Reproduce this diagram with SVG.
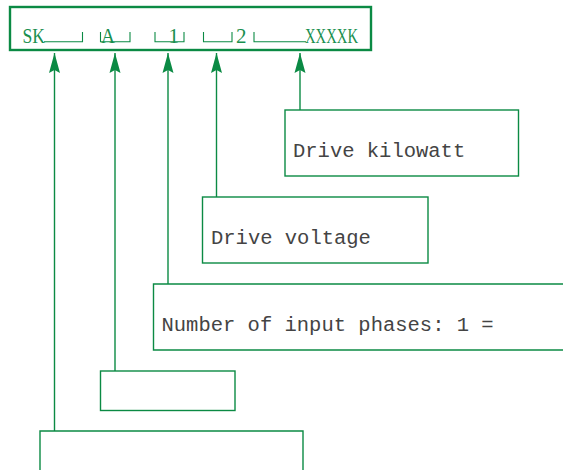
<svg xmlns="http://www.w3.org/2000/svg" width="563" height="470" viewBox="0 0 563 470">
<style>
.box{fill:none;stroke:#0b8a44;stroke-width:1.4}
.code{fill:#1a8f4f;font-family:"Liberation Serif","Times New Roman",serif;font-size:21px}
.lbl{fill:#444444;font-family:"Liberation Mono","Courier New",monospace;font-size:20.5px}
.con{stroke:#0b8a44;stroke-width:1.4;fill:none}
.brk{stroke:#0b8a44;stroke-width:1.1;fill:none}
</style>
<defs>
<marker id="arr" markerUnits="userSpaceOnUse" viewBox="-21 -7 22 14" markerWidth="22" markerHeight="14" refX="0" refY="0" orient="auto">
<path d="M0,0 L-20,-5.5 L-17,0 L-20,5.5 Z" fill="#0b8a44"/>
</marker>
</defs>
<rect width="563" height="470" fill="#ffffff"/>
<g id="code">
<rect x="10" y="7" width="361" height="43" fill="none" stroke="#0b8a44" stroke-width="2.4"/>
<text class="code" x="22.5" y="43" textLength="22.5" lengthAdjust="spacingAndGlyphs">SK</text>
<path class="brk" d="M44,41.8 H82.5 V32"/>
<text class="code" x="101" y="43" textLength="14" lengthAdjust="spacingAndGlyphs">A</text>
<path class="brk" d="M100.5,32 V41.8 H130 V32"/>
<path class="brk" d="M155,32 V41.8 H184 V32"/>
<text class="code" x="168.5" y="43">1</text>
<path class="brk" d="M203.5,32 V41.8 H232 V32"/>
<text class="code" x="236" y="43">2</text>
<path class="brk" d="M254,32 V41.8 H306"/>
<text class="code" x="305" y="43" textLength="53" lengthAdjust="spacingAndGlyphs">XXXXK</text>
</g>
<g id="connectors">
<line class="con" x1="54.5" y1="431" x2="54.5" y2="53" marker-end="url(#arr)"/>
<line class="con" x1="115" y1="371" x2="115" y2="53" marker-end="url(#arr)"/>
<line class="con" x1="168" y1="284" x2="168" y2="53" marker-end="url(#arr)"/>
<line class="con" x1="216.5" y1="197" x2="216.5" y2="53" marker-end="url(#arr)"/>
<line class="con" x1="300" y1="110" x2="300" y2="53" marker-end="url(#arr)"/>
</g>
<g id="kilowatt">
<rect class="box" x="285" y="110" width="233.5" height="66"/>
<text class="lbl" x="293" y="157">Drive kilowatt</text>
</g>
<g id="voltage">
<rect class="box" x="202.5" y="197" width="225.5" height="66"/>
<text class="lbl" x="211" y="243.5">Drive voltage</text>
</g>
<g id="phases">
<path class="box" d="M564,284 H153.5 V350 H564"/>
<text class="lbl" x="161.5" y="330.5">Number of input phases: 1 =</text>
</g>
<g id="box-a">
<rect class="box" x="100.5" y="371" width="134.5" height="39.5"/>
</g>
<g id="box-sk">
<path class="box" d="M40,471 V431 H303 V471"/>
</g>
</svg>
